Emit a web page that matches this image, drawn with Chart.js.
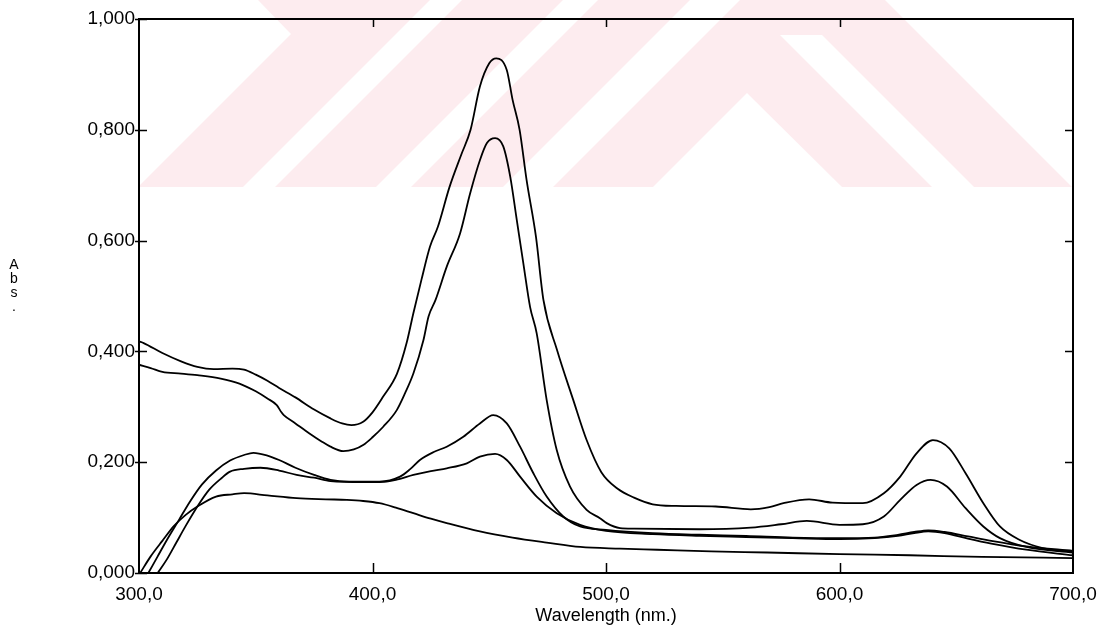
<!DOCTYPE html>
<html>
<head>
<meta charset="utf-8">
<script src="https://cdn.jsdelivr.net/npm/chart.js@4.4.1/dist/chart.umd.min.js"></script>
<style>
  html, body { margin: 0; padding: 0; background: #fff; }
  canvas { display: block; }
</style>
</head>
<body>
<canvas id="spectrum" width="1102" height="634"></canvas>
<script>
// axis ticks
const xTicks = [300, 400, 500, 600, 700];
const yTicks = [0, 0.2, 0.4, 0.6, 0.8, 1.0];

// trace 1 - highest peak (~0.93 at 453 nm)
const trace1Nm  = [300, 302, 310, 318, 325, 332, 340, 345, 350, 355, 360, 367, 375, 382, 387, 391, 396, 400, 404.5, 410.5, 414.6, 417.5, 421, 424.6, 428, 433, 438, 442, 446, 450, 453, 457.5, 460, 463, 466, 470, 473.2, 479, 486, 491.7, 498, 505, 512, 520, 530, 547, 562, 570, 576, 587, 597, 610, 619, 626, 633, 640, 647, 654, 661.6, 668.7, 677, 687, 700];
const trace1Abs = [0.418, 0.415, 0.397, 0.382, 0.372, 0.368, 0.369, 0.367, 0.358, 0.347, 0.334, 0.317, 0.295, 0.279, 0.270, 0.267, 0.273, 0.290, 0.318, 0.360, 0.415, 0.469, 0.530, 0.589, 0.625, 0.697, 0.755, 0.800, 0.878, 0.920, 0.929, 0.908, 0.854, 0.800, 0.709, 0.607, 0.493, 0.403, 0.312, 0.240, 0.182, 0.152, 0.136, 0.124, 0.121, 0.120, 0.115, 0.119, 0.126, 0.133, 0.127, 0.126, 0.144, 0.174, 0.216, 0.240, 0.225, 0.180, 0.126, 0.084, 0.060, 0.045, 0.038];

// trace 2 - second peak (~0.785 at 452 nm)
const trace2Nm  = [300, 305, 310, 318, 325, 335, 343, 350, 355, 359, 361, 362, 367, 373, 378, 382, 387.5, 392, 396, 400, 404.6, 410.4, 414, 417.5, 421.8, 424, 427, 431.8, 437.5, 441.8, 446, 449, 452.5, 456, 459, 461.8, 464.6, 467.5, 470.3, 474.6, 478.9, 484.6, 491.7, 497.4, 500.3, 506, 512, 540, 562, 575, 586, 600, 610, 619, 626, 633, 639, 646, 654, 661.6, 668.7, 680, 700];
const trace2Abs = [0.376, 0.370, 0.363, 0.360, 0.357, 0.351, 0.342, 0.328, 0.315, 0.303, 0.290, 0.285, 0.270, 0.252, 0.238, 0.228, 0.220, 0.223, 0.231, 0.245, 0.264, 0.294, 0.325, 0.360, 0.420, 0.463, 0.493, 0.553, 0.613, 0.685, 0.745, 0.776, 0.785, 0.770, 0.715, 0.637, 0.559, 0.480, 0.433, 0.312, 0.222, 0.156, 0.114, 0.099, 0.090, 0.081, 0.080, 0.079, 0.082, 0.088, 0.094, 0.087, 0.088, 0.102, 0.132, 0.159, 0.168, 0.156, 0.117, 0.084, 0.063, 0.047, 0.037];

// trace 3 - small peak (~0.285 at 452 nm)
const trace3Nm  = [304, 308, 312, 317, 322, 327, 333, 339, 345, 349, 355, 360, 367, 375, 382, 390, 403, 411.8, 416, 420.3, 426, 431.8, 438.9, 446, 451.7, 457.5, 463.2, 468.9, 474.6, 481.7, 488.9, 500, 520, 540, 560, 580, 600, 615, 625, 632, 638, 645, 655, 665, 680, 700];
const trace3Abs = [0.000, 0.030, 0.060, 0.095, 0.130, 0.160, 0.185, 0.203, 0.213, 0.217, 0.212, 0.204, 0.190, 0.177, 0.168, 0.165, 0.165, 0.174, 0.187, 0.204, 0.218, 0.228, 0.246, 0.270, 0.285, 0.270, 0.228, 0.180, 0.138, 0.102, 0.084, 0.078, 0.072, 0.069, 0.067, 0.064, 0.063, 0.064, 0.069, 0.074, 0.077, 0.074, 0.066, 0.058, 0.048, 0.040];

// trace 4 - smaller peak (~0.215 at 452 nm)
const trace4Nm  = [308, 312, 316, 320, 325, 330, 335, 339, 345, 352, 360, 367.5, 375, 382, 396, 403, 410, 417.5, 425, 431.8, 440.4, 446, 452.5, 457.5, 463.2, 470.3, 478.9, 488.9, 500, 520, 540, 560, 580, 600, 615, 625, 632, 638, 645, 655, 665, 680, 700];
const trace4Abs = [0.000, 0.025, 0.055, 0.085, 0.120, 0.150, 0.170, 0.183, 0.188, 0.190, 0.185, 0.177, 0.172, 0.166, 0.164, 0.164, 0.168, 0.177, 0.184, 0.189, 0.198, 0.210, 0.215, 0.204, 0.174, 0.138, 0.108, 0.087, 0.076, 0.070, 0.067, 0.065, 0.063, 0.061, 0.063, 0.067, 0.072, 0.075, 0.072, 0.062, 0.053, 0.042, 0.032];

// trace 5 - flat, no peak
const trace5Nm  = [300.5, 305, 310, 315, 320, 325, 333, 340, 345, 355, 367.5, 380, 389, 396, 403, 410, 417.5, 425, 431.8, 446, 460, 474.6, 489, 506, 522, 545, 569, 600, 630, 661, 700];
const trace5Abs = [0.000, 0.030, 0.058, 0.085, 0.105, 0.120, 0.138, 0.142, 0.144, 0.140, 0.135, 0.133, 0.132, 0.130, 0.126, 0.118, 0.108, 0.098, 0.090, 0.075, 0.064, 0.055, 0.047, 0.044, 0.042, 0.039, 0.037, 0.034, 0.032, 0.029, 0.027];

const traces = [
  [trace1Nm, trace1Abs],
  [trace2Nm, trace2Abs],
  [trace3Nm, trace3Abs],
  [trace4Nm, trace4Abs],
  [trace5Nm, trace5Abs]
];

const labelFont = { family: "'Liberation Sans', Arial, sans-serif", size: 19, lineHeight: 1 };
const comma = (v, d) => v.toFixed(d).replace(".", ",");

// faint pink background logo (white cut-outs over a pink band)
const whiteCuts = [
  [[0, 0], [258, 0], [291, 34], [138, 187], [0, 187]],
  [[430, 0], [462, 0], [275, 187], [243, 187]],
  [[563, 0], [598, 0], [411, 187], [376, 187]],
  [[690, 0], [740, 0], [553, 187], [503, 187]],
  [[780, 35], [822, 35], [974, 187], [932, 187]],
  [[747, 93], [842, 187], [653, 187]],
  [[885, 0], [1102, 0], [1102, 187], [1072, 187]]
];

const watermark = {
  id: "watermark",
  beforeDraw(chart) {
    const c = chart.ctx;
    c.save();
    c.fillStyle = "#fff";
    c.fillRect(0, 0, chart.width, chart.height);
    c.fillStyle = "rgb(253,236,239)";
    c.fillRect(0, 0, chart.width, 187);
    c.fillStyle = "#fff";
    whiteCuts.forEach(poly => {
      c.beginPath();
      poly.forEach(([x, y], i) => (i ? c.lineTo(x, y) : c.moveTo(x, y)));
      c.closePath();
      c.fill();
    });
    c.restore();
  }
};

// box frame, inward ticks, and the stacked "Abs." label
const frame = {
  id: "frame",
  afterDraw(chart) {
    const c = chart.ctx;
    const { left, right, top, bottom } = chart.chartArea;
    const xs = chart.scales.x, ys = chart.scales.y;
    c.save();
    c.strokeStyle = "#000";
    c.lineWidth = 2;
    c.strokeRect(left, top, right - left, bottom - top);
    c.lineWidth = 1.5;
    c.beginPath();
    yTicks.forEach(v => {
      const y = Math.round(ys.getPixelForValue(v)) + 0.5;
      c.moveTo(left - 4, y); c.lineTo(left + 8, y);
      if (v > 0 && v < 1) { c.moveTo(right, y); c.lineTo(right - 8, y); }
    });
    xTicks.slice(1, -1).forEach(v => {
      const x = Math.round(xs.getPixelForValue(v)) + 0.5;
      c.moveTo(x, bottom); c.lineTo(x, bottom - 10);
      c.moveTo(x, top); c.lineTo(x, top + 8);
    });
    c.stroke();

    c.fillStyle = "#000";
    c.font = "14px 'Liberation Sans', Arial, sans-serif";
    c.textAlign = "center";
    c.textBaseline = "middle";
    ["A", "b", "s", "."].forEach((ch, i) => c.fillText(ch, 14, 265 + i * 14));
    c.restore();
  }
};

new Chart(document.getElementById("spectrum"), {
  type: "line",
  data: {
    datasets: traces.map(([nm, abs]) => ({
      data: nm.map((x, i) => ({ x, y: abs[i] })),
      borderColor: "#000",
      borderWidth: 1.8,
      pointRadius: 0,
      fill: false,
      cubicInterpolationMode: "monotone"
    }))
  },
  options: {
    responsive: false,
    animation: false,
    layout: { padding: { left: 0, right: 29, top: 19, bottom: 0 } },
    plugins: { legend: { display: false }, tooltip: { enabled: false } },
    scales: {
      x: {
        type: "linear",
        min: 300,
        max: 700,
        afterBuildTicks: s => { s.ticks = xTicks.map(v => ({ value: v })); },
        afterFit: s => { s.height = 61; s.paddingLeft = 0; s.paddingRight = 0; },
        grid: { display: false, drawTicks: false },
        border: { display: false },
        ticks: { callback: v => comma(v, 1), font: labelFont, color: "#000", padding: 12, maxRotation: 0, autoSkip: false },
        title: { display: true, text: "Wavelength (nm.)", color: "#000", font: { family: labelFont.family, size: 18, lineHeight: 1 }, padding: { top: 0, bottom: 9 } }
      },
      y: {
        min: 0,
        max: 1,
        afterBuildTicks: s => { s.ticks = yTicks.map(v => ({ value: v })); },
        afterFit: s => { s.width = 139; s.paddingTop = 0; s.paddingBottom = 0; },
        grid: { display: false, drawTicks: false },
        border: { display: false },
        ticks: { callback: v => comma(v, 3), font: labelFont, color: "#000", padding: 4 }
      }
    }
  },
  plugins: [watermark, frame]
});
</script>
</body>
</html>
